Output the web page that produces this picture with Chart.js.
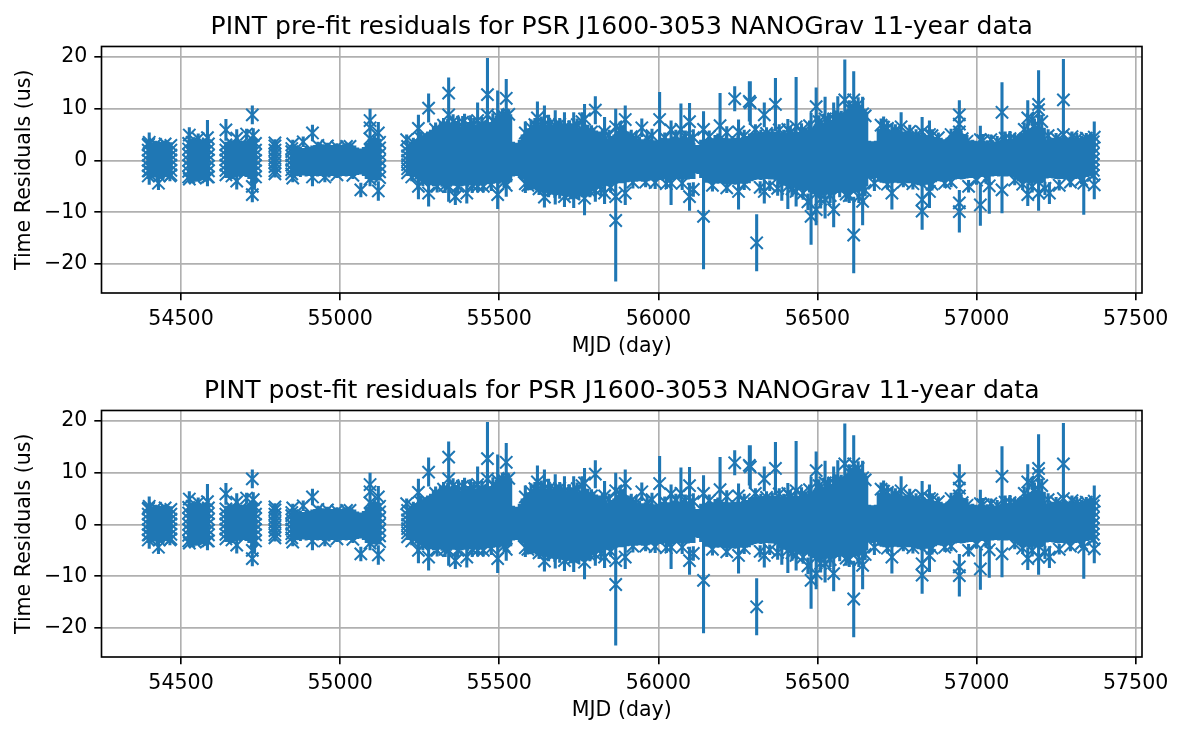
<!DOCTYPE html>
<html>
<head>
<meta charset="utf-8">
<title>PINT residuals</title>
<script src="https://cdn.jsdelivr.net/npm/chart.js@4"></script>
<style>
html, body { margin: 0; padding: 0; background: #fff; }
#page { position: relative; width: 1184px; height: 735px; overflow: hidden; }
.panel { position: absolute; left: 0; width: 1184px; height: 364px; }
</style>
</head>
<body>
<div id="page">
<div class="panel" style="top:0"><canvas id="preFit"></canvas></div>
<div class="panel" style="top:364px"><canvas id="postFit"></canvas></div>
</div>
<script>
const preTitle = "PINT pre-fit residuals for PSR J1600-3053 NANOGrav 11-year data";
const postTitle = "PINT post-fit residuals for PSR J1600-3053 NANOGrav 11-year data";
const xLabel = "MJD (day)";
const yLabel = "Time Residuals (us)";

// crowded stretches: the TOAs can't be told apart, so only the top and bottom of each column is read
const bandMjd = [
54397,54406,54415,54424,54433,54442,54451,54460,54468,
54524,54533,54542,54551,54560,54569,54578,54586,
54641,54650,54659,54668,54677,54686,54695,54704,54713,54722,54731,54734,
54790,54799,
54848,54857,54866,54875,54884,54893,54902,54911,54920,54929,54938,54947,54956,54965,54974,54983,54992,55001,55010,55019,55028,55037,55046,55055,55064,55073,55082,55091,55100,55109,55118,55124,
55212,55221,55230,55239,55248,55257,55266,55275,55284,55293,55302,55311,55320,55329,55338,55347,55356,55365,55374,55383,55392,55401,55410,55419,55428,55437,55446,55455,55464,55473,55482,55491,55500,55509,55518,55527,55536,
55545,55554,55563,55572,55581,55590,55599,55608,55617,55626,55635,55644,55653,55662,55671,55680,55689,55698,55707,55716,55725,55734,55743,55752,55761,55770,55779,55788,55797,55806,55815,55824,55833,55842,55851,55860,55869,55878,55887,55896,55905,55914,55923,55932,55941,55950,55959,55968,55977,55986,55995,56004,56013,56022,56031,56040,56049,56058,56067,56076,56085,56094,56103,56112,56119,
56124,56133,56142,56151,56160,56169,56178,56187,56196,56205,56214,56223,56232,56241,56250,56259,56268,56277,56286,56295,56304,56313,56322,56331,56340,56349,56358,56367,56376,56385,56394,56403,56412,56421,56430,56439,56448,56457,56466,56475,56484,56493,56502,56511,56520,56529,56538,56547,56556,56565,56574,56583,56592,56601,56610,56619,56628,56637,56646,56655,
56664,56673,56682,56691,56700,56709,56718,56727,56736,56745,56754,56763,56772,56781,56790,56799,56808,56817,56826,56835,56844,56853,56862,56871,56880,56889,56898,56907,56916,56925,56934,56943,56952,56961,56970,56979,56988,56997,57006,57015,57024,57033,57042,57051,57060,57069,57078,57087,57096,57105,57114,57123,57132,57141,57150,57159,57168,57177,57186,57195,57204,57213,57222,57231,57240,57249,57258,57267,57276,57285,57294,57303,57312,57321,57330,57339,57348,57357,57363,57368
];
const bandHigh = [
3.6,3.4,3.7,3.5,3.6,3.8,3.4,3.6,3.5,
4.0,3.9,4.2,3.8,4.0,4.1,3.9,3.9,
3.6,3.7,3.5,3.8,3.6,3.5,3.7,3.9,4.2,4.4,4.3,4.1,
3.6,3.7,
2.6,2.8,2.5,2.7,2.4,2.8,2.6,2.9,3.0,3.0,3.3,3.1,3.0,3.2,3.0,3.1,2.9,3.0,3.1,3.0,3.2,3.0,2.9,2.5,2.3,2.6,3.4,4.2,4.3,4.4,4.3,4.2,
3.0,3.3,3.6,4.1,4.4,4.8,5.1,5.6,5.9,6.5,
6.6,6.9,7.2,7.5,8.0,7.3,7.0,7.6,6.5,7.2,
6.8,7.4,6.6,7.5,6.8,7.3,7.0,7.7,6.9,7.4,
7.9,8.6,8.9,8.7,9.2,8.8,8.9,
3.6,3.4,4.0,5.0,5.8,6.2,6.6,6.9,6.4,7.0,
7.6,6.8,7.3,7.9,7.0,7.4,6.7,7.2,6.5,6.9,
7.0,6.3,6.9,6.4,7.1,6.5,6.9,6.2,6.3,5.8,
5.6,5.9,4.9,4.3,4.7,5.0,5.5,6.0,6.8,6.2,
5.6,5.0,4.6,4.2,4.5,4.1,4.3,3.9,4.2,3.9,
3.9,4.2,4.4,4.8,4.3,4.9,4.6,5.0,4.4,4.8,
4.9,4.4,4.7,3.4,3.0,
3.0,4.0,3.6,4.1,4.6,4.3,4.9,5.2,4.7,4.4,
4.8,4.3,4.7,4.4,4.8,4.3,4.9,4.7,5.2,5.3,
5.9,5.4,5.9,5.5,6.0,5.6,6.1,5.6,5.8,5.3,
5.9,5.4,5.8,5.6,5.9,5.5,6.1,6.3,6.0,6.5,
6.3,7.0,7.4,7.9,7.3,8.2,8.0,7.8,8.5,8.1,
8.9,9.1,9.8,10.5,10.9,11.2,11.6,10.8,10.0,9.4,
3.8,3.7,3.8,6.1,6.3,5.8,6.4,5.8,6.2,5.7,
5.9,5.5,5.6,5.8,5.3,5.5,5.0,5.4,4.9,5.2,
4.8,4.9,4.4,4.5,4.0,4.4,4.1,4.4,4.8,5.5,
6.0,6.4,5.8,5.1,4.4,3.9,4.0,3.8,3.6,3.8,
3.7,3.9,3.5,3.9,3.6,3.9,4.0,4.3,3.9,4.2,
4.3,4.5,5.0,5.3,5.7,5.9,6.2,6.4,6.6,6.3,
6.5,6.3,4.1,4.3,4.4,4.2,4.6,4.4,4.6,4.4,
4.6,4.3,4.6,4.4,4.7,4.5,4.8,5.0,4.9,5.2
];
const bandLow = [
-3.3,-3.5,-3.2,-3.4,-3.3,-3.4,-3.2,-3.5,-3.3,
-4.0,-3.9,-4.1,-3.9,-4.0,-3.8,-4.1,-3.9,
-3.1,-3.3,-3.0,-3.2,-3.1,-3.2,-3.0,-3.2,-3.6,-4.4,-5.4,-4.1,
-2.6,-2.5,
-3.1,-3.3,-3.0,-3.2,-2.9,-3.1,-3.0,-3.2,-3.0,-3.1,-3.0,-3.2,-3.1,-3.3,-3.0,-3.1,-2.9,-3.1,-3.0,-3.1,-3.0,-3.2,-3.0,-2.8,-2.7,-3.0,-3.6,-3.9,-3.8,-3.9,-3.8,-3.7,
-2.6,-2.9,-3.2,-3.7,-4.0,-4.2,-4.4,-4.6,-4.8,-5.0,-5.0,-4.8,-5.1,-5.0,-5.0,-5.1,-4.9,-5.0,-5.2,-5.0,-4.9,-5.1,-4.8,-5.0,-4.7,-4.9,-4.7,-4.8,-4.6,-4.7,-4.5,-4.4,-4.5,-4.3,-4.4,-4.3,-4.2,
-3.1,-3.0,-3.4,-3.7,-4.4,-5.0,-5.7,-5.6,-5.8,-6.0,-6.1,-6.2,-6.4,-6.6,-6.5,-6.7,-6.6,-6.8,-7.0,-7.0,-6.9,-7.1,-7.0,-6.9,-7.1,-7.0,-6.9,-6.6,-6.0,-5.5,-5.0,-5.1,-4.9,-5.0,-4.8,-4.6,-4.5,-4.4,-4.4,-4.3,-4.2,-4.1,-4.0,-4.1,-4.0,-4.1,-3.9,-4.0,-3.9,-4.0,-3.9,-3.8,-3.9,-3.7,-3.8,-3.7,-3.8,-3.6,-3.7,-3.8,-3.7,-3.7,-3.6,-3.6,-2.5,
-2.6,-3.4,-3.9,-4.3,-4.4,-4.5,-4.4,-4.5,-4.4,-4.6,-4.5,-4.7,-4.6,-4.7,-4.6,-4.5,-4.4,-4.5,-4.4,-4.0,-3.8,-3.7,-3.8,-3.7,-3.6,-3.7,-3.7,-3.9,-4.2,-4.6,-4.9,-5.0,-5.0,-5.1,-5.3,-5.5,-5.7,-5.8,-5.8,-6.2,-6.5,-6.9,-7.0,-7.1,-6.8,-6.6,-6.4,-6.3,-6.4,-6.3,-6.2,-6.3,-6.2,-6.4,-6.3,-6.2,-6.3,-6.0,-5.5,-5.0,
-3.4,-3.6,-3.4,-4.1,-4.3,-4.4,-4.3,-4.4,-4.4,-4.3,
-4.4,-4.4,-4.3,-4.4,-4.4,-4.5,-4.7,-4.8,-5.0,-4.9,
-4.7,-4.6,-4.4,-4.2,-4.0,-4.1,-3.9,-4.0,-3.8,-3.7,
-3.7,-3.6,-3.7,-3.6,-3.5,-3.4,-3.4,-3.3,-3.4,-3.2,
-3.1,-3.2,-3.1,-3.1,-3.0,-3.1,-3.0,-3.1,-3.1,-3.0,
-3.2,-3.6,-4.0,-4.3,-4.4,-4.3,-4.4,-4.3,-4.4,-4.3,
-4.4,-4.2,-3.5,-3.4,-3.5,-3.6,-3.7,-3.6,-3.7,-3.6,
-3.7,-3.6,-3.6,-3.5,-3.4,-3.3,-3.2,-3.1,-3.1,-3.0
];

// single TOAs whose cross can be read: outliers and the edges of each observing block
const toaMjd = [
54397,54397,54397,54397,54397,54397,54397,
54468,54468,54468,54468,54468,54468,54468,
54400,54400,54398,54429,54465,
54524,54524,54524,54524,54524,54524,54524,
54586,54586,54586,54586,54586,54586,54586,
54526,54554,54583,54583,54526,
54641,54641,54641,54641,54641,54641,54641,54641,
54675,54675,54724,54706,54727,54724,54724,
54734,54734,54734,54734,54734,54734,54734,
54795,54795,54795,54795,54795,54795,54795,54795,54795,
54848,54848,54848,54848,54848,54848,54848,
54851,54851,54884,54913,54913,54952,55031,
55094,55094,55094,55094,55065,55120,55120,
55124,55124,55124,55124,55124,55124,55124,
55212,55212,55212,55212,55212,55212,55212,
55209,55246,55246,55278,55278,55341,55341,55362,55341,55398,
55391,55432,55432,55463,55463,55495,55495,55522,55522,55582,
55582,55620,55642,55642,55676,55676,55705,55705,55734,55734,
55760,55768,55768,55802,55802,55831,55831,55866,55866,55866,
55896,55896,55948,56004,55980,56040,56040,56071,56098,56098,
56142,56142,56194,56240,56252,56252,56289,
56286,56309,56333,56333,56368,56388,56407,56407,56433,56433,
56480,56480,56496,56496,56524,56524,56551,56551,56564,56586,
56614,56614,56642,56642,56679,56708,56734,56734,56763,56829,
56829,56829,56852,56852,56946,56946,56946,56946,56946,57012,
57012,57040,57080,57080,57105,57161,57161,57195,57195,57195,
57229,57273,57273,57337,57370,57370,
57367,57367,57367,57367,57367,57367,57367
];
const toaResidual = [
-3.0,-2.0,-1.0,0.0,1.0,2.0,3.0,
-2.8,-1.9,-0.9,0.1,1.0,2.0,2.9,
3.5,-2.0,3.2,-4.4,-3.0,
-3.2,-2.1,-1.0,0.0,1.1,2.2,3.3,
-3.2,-2.0,-1.1,0.1,1.0,2.1,3.2,
4.9,4.2,4.4,-3.2,-3.6,
-2.8,-1.9,-0.9,0.1,1.0,2.0,3.0,5.9,
4.3,-4.0,8.8,5.1,4.8,-6.6,-5.0,
-3.2,-2.0,-1.0,0.0,1.1,2.0,3.3,
-2.6,-2.0,-1.2,-0.4,0.4,1.2,2.0,2.8,3.4,
-2.6,-1.8,-0.9,0.0,0.9,1.7,2.3,
3.2,-3.4,3.6,5.3,-3.2,-3.2,2.7,
7.7,6.3,4.2,-3.6,-5.7,5.3,-5.9,
-3.3,-2.2,-1.1,0.0,1.2,2.4,3.5,
-2.4,-1.6,-0.8,0.0,0.9,1.8,2.7,
4.0,6.2,-5.0,10.1,-6.3,13.0,-5.0,-7.0,8.8,-6.3,
6.0,7.7,-5.0,12.7,8.8,8.5,-6.6,12.0,-4.8,5.3,
-4.5,8.2,7.0,-7.1,6.7,-5.5,6.5,-7.0,6.5,-6.5,
7.5,8.0,-7.3,9.7,-5.8,5.5,-6.3,-11.6,-7.0,6.5,
7.9,-6.3,6.3,7.9,4.8,5.9,-4.4,6.0,7.5,-7.0,
6.0,-10.8,6.7,11.9,-6.0,5.5,11.1,
11.4,-15.9,8.8,-6.0,10.8,-4.0,-5.0,6.0,6.5,-6.0,
-10.8,5.0,10.4,-9.5,8.0,-7.5,8.0,-9.5,8.0,11.7,
-14.4,11.7,9.0,-7.9,-4.4,6.4,-6.3,5.0,6.5,-7.6,
-9.8,5.5,5.0,-6.0,8.8,7.0,5.5,-9.9,-8.2,-8.6,
4.0,-4.9,9.3,-5.7,4.2,8.2,-6.6,10.8,9.8,-6.3,
-6.3,11.7,5.0,-4.4,-4.7,4.5,
-2.9,-1.9,-0.8,0.2,1.3,2.4,3.6
];
const toaError = [
0.6,0.5,0.5,0.5,0.5,0.5,0.6,
0.6,0.5,0.5,0.5,0.5,0.5,0.6,
1.9,2.7,0.6,1.3,1.0,
0.6,0.5,0.5,0.5,0.5,0.5,0.6,
0.6,0.5,0.5,0.5,0.5,0.5,0.6,
1.5,1.0,3.4,1.8,0.8,
0.6,0.5,0.5,0.5,0.5,0.5,0.6,2.1,
1.7,1.6,1.8,1.0,1.4,1.5,1.0,
0.6,0.5,0.5,0.5,0.5,0.5,0.6,
0.7,0.5,0.5,0.5,0.5,0.5,0.5,0.5,0.7,
0.6,0.5,0.5,0.5,0.5,0.5,0.6,
0.8,0.8,1.0,1.6,1.8,1.0,0.7,
2.3,1.4,1.2,1.4,1.4,2.1,1.9,
0.6,0.5,0.5,0.5,0.5,0.5,0.6,
0.6,0.5,0.5,0.5,0.5,0.5,0.6,
1.0,2.6,2.5,2.8,2.6,3.0,3.0,1.6,1.5,2.0,
3.0,3.5,1.2,7.1,2.2,5.0,2.8,3.7,2.2,2.2,
1.8,3.2,3.6,2.0,3.0,3.0,2.8,2.0,2.8,2.7,
1.8,2.9,3.3,2.7,2.2,2.9,2.1,11.8,3.0,3.5,
2.7,2.3,1.8,5.3,1.3,1.8,4.2,5.0,3.6,2.7,
3.5,10.2,6.3,2.4,3.5,2.4,4.2,
3.9,5.5,2.4,2.3,5.1,3.8,4.4,2.0,9.6,2.9,
5.5,4.2,3.7,3.0,4.3,3.7,3.2,3.4,4.4,7.8,
7.4,5.5,3.3,4.6,1.5,2.1,3.2,2.2,2.8,4.9,
3.6,2.9,2.7,3.2,2.8,2.5,1.5,4.0,2.5,4.0,
2.7,5.4,5.8,4.5,1.5,3.4,2.2,6.6,3.0,3.4,
2.1,7.9,1.5,6.1,2.8,3.0,
0.6,0.5,0.5,0.5,0.5,0.5,0.6
];

// crosses along the rim of the crowded stretches, upper then lower
const rimMjd = [
54420,54450,54535,54570,54660,54690,54930,54960,54990,55020,
55230,55255,55300,55315,55325,55355,55372,55385,55410,55420,
55445,55480,55510,55530,55600,55612,55632,55655,55690,55720,
55745,55790,55845,55880,55915,55930,55965,56020,56055,56085,
56110,56160,56215,56270,56305,56340,56380,56415,56450,56475,
56505,56535,56560,56575,56600,56628,56650,56700,56720,56745,
56790,56810,56860,56880,56920,56955,56970,57020,57045,57065,
57090,57120,57150,57175,57182,57205,57225,57250,57300,57315,57345,
54432,54545,54660,54990,55040,
55225,55260,55305,55330,55370,55415,55450,55475,55515,55590,
55625,55655,55690,55725,55750,55785,55820,55850,55920,55960,
55990,56025,56075,56110,56170,56215,56270,56320,56350,56375,
56420,56455,56470,56510,56540,56570,56590,56600,56630,56650,
56720,56770,56800,56860,56900,56920,56975,57000,57030,57120,
57145,57175,57215,57260,57295,57330
];
const rimResidual = [
3.1,3.2,3.5,3.4,3.2,3.2,2.9,2.8,2.6,2.7,
3.4,4.2,6.0,5.5,6.8,7.5,6.6,7.4,6.5,7.0,
6.8,7.6,8.8,8.9,6.3,6.9,7.5,6.8,7.0,6.2,
6.9,5.5,4.9,6.0,4.6,4.2,4.2,4.4,4.7,4.6,
4.4,4.6,5.4,4.8,6.0,5.2,5.9,5.4,5.8,6.7,
7.5,7.8,7.6,8.4,10.1,10.8,8.6,6.8,6.2,5.8,
5.6,4.9,4.8,4.4,5.0,4.2,3.7,3.8,4.0,3.7,
4.3,4.2,6.0,7.9,6.8,7.5,4.8,4.3,4.6,4.2,4.3,
-3.0,-3.4,-3.0,-2.8,-2.9,
-3.2,-4.0,-5.0,-4.8,-5.0,-4.8,-5.0,-4.6,-4.2,-4.8,
-5.5,-5.6,-6.0,-6.2,-5.6,-6.0,-5.6,-5.2,-4.2,-4.2,
-4.3,-4.5,-4.4,-5.6,-4.8,-5.3,-4.6,-5.2,-4.9,-5.4,
-5.5,-6.3,-8.0,-7.5,-6.8,-5.5,-6.5,-6.8,-7.0,-5.8,
-4.6,-4.2,-4.5,-4.6,-4.4,-4.2,-5.0,-3.8,-3.5,-3.8,
-4.6,-5.0,-5.4,-4.8,-4.2,-3.7
];
const rimError = [
0.7,0.6,0.7,0.8,0.7,0.6,0.7,0.6,0.7,0.6,
1.0,1.3,1.3,2.0,1.4,1.4,1.8,1.2,2.2,1.2,
1.6,1.5,1.2,1.0,1.6,1.3,1.0,2.0,1.2,1.5,
1.2,1.3,1.0,1.5,1.3,1.1,1.2,1.0,1.2,1.2,
1.6,1.2,1.2,1.1,1.0,1.2,1.1,1.2,1.4,1.0,
1.2,1.2,2.0,1.2,1.5,1.4,1.2,1.3,1.5,1.2,
1.3,1.1,1.2,1.0,1.1,1.0,1.2,1.3,1.0,1.0,
1.3,1.0,1.3,1.3,1.3,1.3,1.2,1.0,1.0,1.1,1.0,
0.6,0.7,0.6,0.6,0.7,
0.8,1.0,1.2,1.5,1.4,1.5,1.2,1.3,1.0,1.0,
1.2,1.5,1.4,1.3,2.0,1.1,1.2,1.0,1.2,1.0,
1.2,1.0,1.3,1.4,1.2,1.0,1.1,1.2,1.0,1.4,
1.5,1.3,1.6,1.8,1.4,1.6,1.5,1.4,1.2,1.1,
1.0,1.0,1.1,1.2,0.9,1.0,1.2,0.9,1.0,1.0,
1.1,1.2,1.3,1.0,1.0,0.9
];
const xTicks = [54500, 55000, 55500, 56000, 56500, 57000, 57500];
const yTicks = [-20, -10, 0, 10, 20];

const blue = "#1f77b4";
const fontFamily = "'DejaVu Sans', sans-serif";

// each error bar is two points of one line, with a gap after it
function errorBarPoints() {
  const pts = [];
  bandMjd.forEach((x, i) => {
    pts.push({ x: x, y: bandLow[i] }, { x: x, y: bandHigh[i] }, { x: x, y: null });
  });
  toaMjd.forEach((x, i) => {
    pts.push({ x: x, y: toaResidual[i] - toaError[i] }, { x: x, y: toaResidual[i] + toaError[i] }, { x: x, y: null });
  });
  rimMjd.forEach((x, i) => {
    pts.push({ x: x, y: rimResidual[i] - rimError[i] }, { x: x, y: rimResidual[i] + rimError[i] }, { x: x, y: null });
  });
  return pts;
}

function crossPoints() {
  const toa = toaMjd.map((x, i) => ({ x: x, y: toaResidual[i] }));
  const rim = rimMjd.map((x, i) => ({ x: x, y: rimResidual[i] }));
  return toa.concat(rim);
}

const framePlugin = {
  id: "frame",
  afterDraw(chart) {
    const a = chart.chartArea;
    const ctx = chart.ctx;
    ctx.save();
    ctx.strokeStyle = "#000";
    ctx.lineWidth = 1.64;
    ctx.strokeRect(a.left, a.top, a.right - a.left, a.bottom - a.top);
    ctx.restore();
  }
};

function drawPanel(id, title) {
  new Chart(document.getElementById(id), {
    type: "scatter",
    data: {
      datasets: [
        {
          data: errorBarPoints(),
          showLine: true,
          spanGaps: false,
          borderColor: blue,
          borderWidth: 3.08,
          borderCapStyle: "butt",
          pointRadius: 0,
          tension: 0
        },
        {
          data: crossPoints(),
          showLine: false,
          pointStyle: "crossRot",
          pointRadius: 8.7,
          pointBorderColor: blue,
          pointBorderWidth: 2.06,
          pointBackgroundColor: blue
        }
      ]
    },
    options: {
      responsive: true,
      maintainAspectRatio: false,
      animation: false,
      events: [],
      layout: { padding: { top: 0, right: 42, bottom: 0, left: 0 } },
      plugins: {
        legend: { display: false },
        tooltip: { enabled: false },
        title: {
          display: true,
          text: title,
          fullSize: false,
          color: "#000",
          font: { family: fontFamily, size: 25.07, weight: "normal", lineHeight: 1.2 },
          padding: { top: 12.5, bottom: 3.9 }
        }
      },
      scales: {
        x: {
          type: "linear",
          min: 54250,
          max: 57520,
          afterFit(scale) { scale.height = 71; },
          afterBuildTicks(scale) { scale.ticks = xTicks.map(v => ({ value: v })); },
          grid: { color: "#b0b0b0", lineWidth: 1.64, tickColor: "#000", tickWidth: 1.64, tickLength: 7.2 },
          border: { display: false },
          ticks: {
            color: "#000",
            font: { family: fontFamily, size: 20.56 },
            padding: 7,
            maxRotation: 0,
            autoSkip: false,
            callback: v => String(v)
          },
          title: {
            display: true,
            text: xLabel,
            color: "#000",
            font: { family: fontFamily, size: 20.56 },
            padding: { top: 0, bottom: 5 }
          }
        },
        y: {
          min: -25.6,
          max: 22,
          afterFit(scale) { scale.width = 101.5; },
          afterBuildTicks(scale) { scale.ticks = yTicks.map(v => ({ value: v })); },
          grid: { color: "#b0b0b0", lineWidth: 1.64, tickColor: "#000", tickWidth: 1.64, tickLength: 7.2 },
          border: { display: false },
          ticks: {
            color: "#000",
            font: { family: fontFamily, size: 20.56 },
            padding: 7,
            autoSkip: false,
            callback: v => String(v).replace("-", "\u2212")
          },
          title: {
            display: true,
            text: yLabel,
            color: "#000",
            font: { family: fontFamily, size: 20.56 },
            padding: { top: 12, bottom: 0 }
          }
        }
      }
    },
    plugins: [framePlugin]
  });
}

drawPanel("preFit", preTitle);
drawPanel("postFit", postTitle);
</script>
</body>
</html>
